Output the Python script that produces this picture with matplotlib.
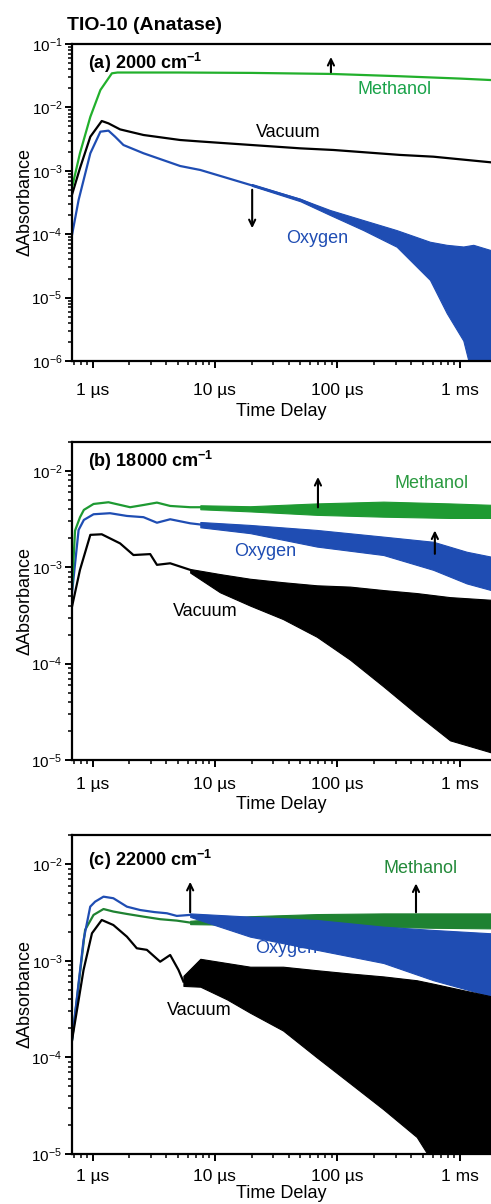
import numpy as np
import matplotlib.pyplot as plt
from matplotlib.ticker import LogLocator, FixedLocator, NullFormatter

plt.rcParams['font.family'] = ['Liberation Sans', 'DejaVu Sans']
plt.rcParams['mathtext.fontset'] = 'custom'
plt.rcParams['mathtext.rm'] = 'Liberation Sans'
plt.rcParams['mathtext.bf'] = 'Liberation Sans:bold'
plt.rcParams['mathtext.default'] = 'regular'

# x axis (time delay, in microseconds)
t_ticks = [1, 10, 100, 1000]
t_tick_labels = ['1 µs', '10 µs', '100 µs', '1 ms']

# ---------- (a) 2000 cm-1 ----------
a_meoh_t = [0.68, 0.79, 0.96, 1.16, 1.44, 1.6, 5, 20, 90, 325, 1000, 1800]
a_meoh_A = [5.4e-4, 1.9e-3, 7.1e-3, 1.88e-2, 3.45e-2, 3.55e-2, 3.55e-2, 3.5e-2, 3.37e-2, 3.1e-2, 2.85e-2, 2.7e-2]

a_vac_t = [0.68, 0.79, 0.96, 1.19, 1.35, 1.68, 2.61, 5.2, 7.6, 20, 50, 93, 325, 608, 1800]
a_vac_A = [4.2e-4, 1.1e-3, 3.45e-3, 6.1e-3, 5.6e-3, 4.5e-3, 3.67e-3, 3.06e-3, 2.9e-3, 2.55e-3, 2.26e-3, 2.13e-3, 1.78e-3, 1.67e-3, 1.36e-3]

a_oxy_t = [0.68, 0.77, 0.96, 1.16, 1.35, 1.53, 1.79, 2.61, 5.2, 7.6, 19.4, 50, 87]
a_oxy_A = [9.7e-5, 3.47e-4, 1.89e-3, 4.14e-3, 4.3e-3, 3.45e-3, 2.55e-3, 1.89e-3, 1.19e-3, 1.03e-3, 6.0e-4, 3.5e-4, 2.2e-4]
# noise envelope of the oxygen trace
a_oxy_band_t = [20, 50, 87, 163, 305, 571, 782, 1069, 1290, 1800]
a_oxy_hi = [6.2e-4, 3.6e-4, 2.41e-4, 1.67e-4, 1.16e-4, 7.6e-5, 6.8e-5, 6.4e-5, 6.8e-5, 5.6e-5]
a_oxy_lo = [5.8e-4, 3.3e-4, 2.01e-4, 1.16e-4, 6.35e-5, 1.9e-5, 5.7e-6, 2.1e-6, 5e-7, 5e-7]

# ---------- (b) 18000 cm-1 ----------
b_meoh_t = [0.68, 0.72, 0.79, 0.85, 1.02, 1.35, 2.03, 2.61, 3.36, 4.31, 6.28, 7.6]
b_meoh_A = [6e-4, 2.4e-3, 3.3e-3, 3.94e-3, 4.54e-3, 4.73e-3, 4.2e-3, 4.43e-3, 4.69e-3, 4.33e-3, 4.2e-3, 4.2e-3]
b_meoh_band_t = [7.6, 19.4, 68, 238, 832, 1800]
b_meoh_hi = [4.4e-3, 4.3e-3, 4.6e-3, 4.8e-3, 4.6e-3, 4.45e-3]
b_meoh_lo = [4.0e-3, 3.8e-3, 3.5e-3, 3.35e-3, 3.25e-3, 3.25e-3]

b_oxy_t = [0.68, 0.77, 0.85, 1.02, 1.39, 1.91, 2.61, 3.36, 4.31, 6.28, 7.6]
b_oxy_A = [5.4e-4, 2.44e-3, 3.10e-3, 3.55e-3, 3.64e-3, 3.41e-3, 3.31e-3, 2.90e-3, 3.15e-3, 2.86e-3, 2.78e-3]
b_oxy_band_t = [7.6, 19.4, 68, 238, 608, 1138, 1800]
b_oxy_hi = [2.95e-3, 2.75e-3, 2.44e-3, 2.08e-3, 1.84e-3, 1.45e-3, 1.29e-3]
b_oxy_lo = [2.6e-3, 2.26e-3, 1.64e-3, 1.34e-3, 9.4e-4, 6.8e-4, 5.8e-4]

b_vac_t = [0.68, 0.79, 0.96, 1.19, 1.68, 2.16, 2.96, 3.36, 4.31, 6.28]
b_vac_A = [3.9e-4, 9.4e-4, 2.17e-3, 2.2e-3, 1.77e-3, 1.34e-3, 1.37e-3, 1.06e-3, 1.10e-3, 9.4e-4]
b_vac_band_t = [6.28, 11, 19.4, 36, 68, 127, 238, 445, 832, 1800]
b_vac_hi = [9.6e-4, 8.5e-4, 7.6e-4, 7.0e-4, 6.5e-4, 6.3e-4, 5.8e-4, 5.4e-4, 4.9e-4, 4.6e-4]
b_vac_lo = [8.8e-4, 5.5e-4, 4.0e-4, 2.9e-4, 1.9e-4, 1.1e-4, 5.8e-5, 3.0e-5, 1.6e-5, 1.2e-5]

# ---------- (c) 22000 cm-1 ----------
c_meoh_t = [0.68, 0.87, 1.02, 1.23, 1.48, 1.91, 2.61, 3.57, 4.88, 6.28]
c_meoh_A = [1.5e-4, 2.09e-3, 2.99e-3, 3.44e-3, 3.24e-3, 3.06e-3, 2.87e-3, 2.70e-3, 2.61e-3, 2.49e-3]
c_meoh_band_t = [6.28, 19.4, 68, 238, 608, 1800]
c_meoh_hi = [2.6e-3, 2.9e-3, 3.05e-3, 3.1e-3, 3.1e-3, 3.1e-3]
c_meoh_lo = [2.4e-3, 2.35e-3, 2.3e-3, 2.25e-3, 2.2e-3, 2.17e-3]

c_oxy_t = [0.68, 0.845, 0.958, 1.05, 1.23, 1.48, 1.91, 2.45, 3.2, 4.05, 4.88, 6.28]
c_oxy_A = [1.5e-4, 1.64e-3, 3.64e-3, 4.10e-3, 4.62e-3, 4.45e-3, 3.64e-3, 3.36e-3, 3.2e-3, 3.11e-3, 2.92e-3, 2.99e-3]
c_oxy_band_t = [6.28, 19.4, 68, 238, 608, 1800]
c_oxy_hi = [3.1e-3, 2.87e-3, 2.65e-3, 2.26e-3, 2.09e-3, 1.93e-3]
c_oxy_lo = [2.85e-3, 1.78e-3, 1.30e-3, 9.5e-4, 6.3e-4, 4.3e-4]

c_vac_t = [0.68, 0.845, 0.99, 1.19, 1.48, 1.91, 2.30, 2.78, 3.57, 4.31, 5.04, 5.53]
c_vac_A = [1.5e-4, 8.05e-4, 1.93e-3, 2.65e-3, 2.35e-3, 1.78e-3, 1.35e-3, 1.30e-3, 9.8e-4, 1.15e-3, 8.05e-4, 6.1e-4]
c_vac_band_t = [5.53, 7.6, 12.5, 19.4, 36, 68, 127, 238, 445, 608, 1800]
c_vac_hi = [7.0e-4, 1.05e-3, 9.5e-4, 8.7e-4, 8.7e-4, 8.0e-4, 7.4e-4, 6.9e-4, 6.3e-4, 5.8e-4, 4.3e-4]
c_vac_lo = [5.5e-4, 5.4e-4, 4.0e-4, 2.9e-4, 1.9e-4, 1.0e-4, 5.4e-5, 2.9e-5, 1.5e-5, 8e-6, 8e-6]

BLUE = '#1f4db3'
BLACK = '#000000'


def trace(ax, t, A, color, band=None):
    ax.plot(t, A, color=color, lw=1.6, solid_joinstyle='round')
    if band is not None:
        bt, hi, lo = band
        ax.fill_between(bt, lo, hi, color=color, lw=0.8, edgecolor=color)


def setup(ax, ylo, yhi, decades, xpad, xlab_y):
    ax.set_xscale('log')
    ax.set_yscale('log')
    ax.set_xlim(0.68, 1800)
    ax.set_ylim(ylo, yhi)
    ax.xaxis.set_major_locator(FixedLocator(t_ticks))
    ax.set_xticklabels(t_tick_labels)
    ax.xaxis.set_minor_locator(LogLocator(base=10, subs=np.arange(2, 10), numticks=50))
    ax.xaxis.set_minor_formatter(NullFormatter())
    ax.yaxis.set_major_locator(FixedLocator([10.0 ** d for d in decades]))
    ax.set_yticklabels([r'$10^{%d}$' % d for d in decades])
    ax.yaxis.set_minor_locator(LogLocator(base=10, subs=np.arange(2, 10), numticks=50))
    ax.yaxis.set_minor_formatter(NullFormatter())
    ax.spines['right'].set_visible(False)
    for s in ['left', 'bottom', 'top']:
        ax.spines[s].set_linewidth(1.6)
    ax.tick_params(which='major', direction='out', length=5, width=1.4)
    ax.tick_params(which='minor', direction='out', length=3, width=1.1)
    ax.tick_params(axis='x', labelsize=12.5, pad=xpad)
    ax.tick_params(axis='y', labelsize=11, pad=2)
    ax.text(0.5, xlab_y, 'Time Delay', transform=ax.transAxes, ha='center', va='center', fontsize=13)
    ax.text(-0.112, 0.5, 'ΔAbsorbance', transform=ax.transAxes, rotation=90,
            ha='center', va='center', fontsize=13)


def arrow(ax, x, y0, y1):
    ax.annotate('', xy=(x, y1), xytext=(x, y0), xycoords='axes fraction',
                arrowprops=dict(arrowstyle='->,head_length=0.45,head_width=0.22', lw=1.5, color='black'))


fig = plt.figure(figsize=(4.91, 12.04), dpi=100)
W = 491.0
H = 1204.0
left = 72 / W
width = (W - 72) / W

ax_a = fig.add_axes([left, 1 - 361 / H, width, 317 / H])
ax_b = fig.add_axes([left, 1 - 760 / H, width, 318.3 / H])
ax_c = fig.add_axes([left, 1 - 1154 / H, width, 319 / H])

fig.text(67 / W, 1 - 25 / H, 'TIO-10 (Anatase)', fontsize=14, fontweight='bold', ha='left', va='center')

# (a)
setup(ax_a, 1e-6, 1e-1, [-6, -5, -4, -3, -2, -1], 11, -0.160)
trace(ax_a, a_oxy_t, a_oxy_A, BLUE, (a_oxy_band_t, a_oxy_hi, a_oxy_lo))
trace(ax_a, a_vac_t, a_vac_A, BLACK)
trace(ax_a, a_meoh_t, a_meoh_A, '#22b02c')
ax_a.text(0.038, 0.940, r'(a) 2000 cm$^{\mathbf{-1}}$', transform=ax_a.transAxes,
          fontsize=13, fontweight='bold', va='center')
ax_a.text(0.771, 0.858, 'Methanol', transform=ax_a.transAxes, color='#1aa34a', fontsize=13, ha='center', va='center')
ax_a.text(0.516, 0.722, 'Vacuum', transform=ax_a.transAxes, color='black', fontsize=13, ha='center', va='center')
ax_a.text(0.585, 0.385, 'Oxygen', transform=ax_a.transAxes, color=BLUE, fontsize=13, ha='center', va='center')
arrow(ax_a, 0.618, 0.902, 0.968)
arrow(ax_a, 0.430, 0.549, 0.410)

# (b)
setup(ax_b, 1e-5, 2.01e-2, [-5, -4, -3, -2], 7, -0.141)
trace(ax_b, b_vac_t, b_vac_A, BLACK, (b_vac_band_t, b_vac_hi, b_vac_lo))
trace(ax_b, b_oxy_t, b_oxy_A, BLUE, (b_oxy_band_t, b_oxy_hi, b_oxy_lo))
trace(ax_b, b_meoh_t, b_meoh_A, '#1e9a32', (b_meoh_band_t, b_meoh_hi, b_meoh_lo))
ax_b.text(0.038, 0.939, r'(b) 18000 cm$^{\mathbf{-1}}$', transform=ax_b.transAxes,
          fontsize=13, fontweight='bold', va='center')
ax_b.text(0.858, 0.869, 'Methanol', transform=ax_b.transAxes, color='#2a9a40', fontsize=13, ha='center', va='center')
ax_b.text(0.461, 0.654, 'Oxygen', transform=ax_b.transAxes, color=BLUE, fontsize=13, ha='center', va='center')
ax_b.text(0.317, 0.466, 'Vacuum', transform=ax_b.transAxes, color='black', fontsize=13, ha='center', va='center')
arrow(ax_b, 0.587, 0.785, 0.898)
arrow(ax_b, 0.866, 0.639, 0.730)

# (c)
setup(ax_c, 1e-5, 2.01e-2, [-5, -4, -3, -2], 6, -0.124)
trace(ax_c, c_meoh_t, c_meoh_A, '#1f8232', (c_meoh_band_t, c_meoh_hi, c_meoh_lo))
trace(ax_c, c_oxy_t, c_oxy_A, BLUE, (c_oxy_band_t, c_oxy_hi, c_oxy_lo))
trace(ax_c, c_vac_t, c_vac_A, BLACK, (c_vac_band_t, c_vac_hi, c_vac_lo))
ax_c.text(0.038, 0.922, r'(c) 22000 cm$^{\mathbf{-1}}$', transform=ax_c.transAxes,
          fontsize=13, fontweight='bold', va='center')
ax_c.text(0.832, 0.896, 'Methanol', transform=ax_c.transAxes, color='#238a3a', fontsize=13, ha='center', va='center')
ax_c.text(0.511, 0.645, 'Oxygen', transform=ax_c.transAxes, color=BLUE, fontsize=13, ha='center', va='center')
ax_c.text(0.304, 0.449, 'Vacuum', transform=ax_c.transAxes, color='black', fontsize=13, ha='center', va='center')
arrow(ax_c, 0.282, 0.749, 0.862)
arrow(ax_c, 0.821, 0.749, 0.857)

fig.savefig('out.png', dpi=100)
